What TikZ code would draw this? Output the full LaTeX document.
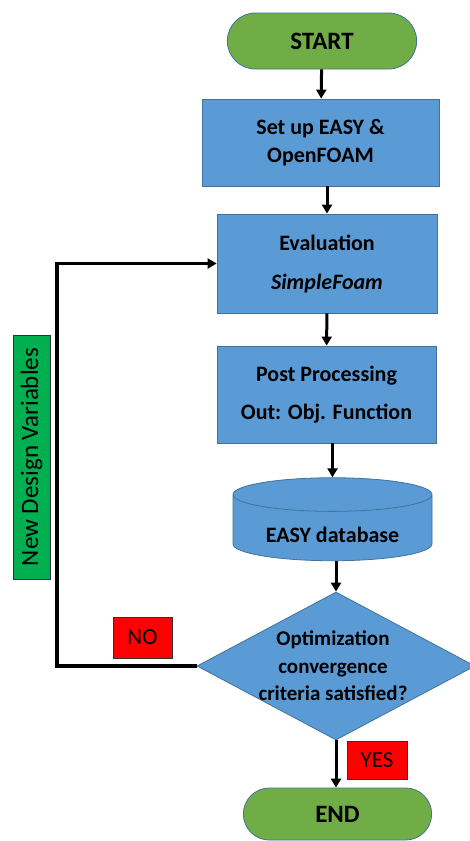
\documentclass[tikz,border=0pt]{standalone}
\usepackage{fontspec}
\setmainfont{Carlito}
\usetikzlibrary{arrows.meta,shapes.geometric,shapes.misc}
\definecolor{boxblue}{HTML}{5B9BD5}
\definecolor{edgeblue}{HTML}{41719C}
\definecolor{pillgreen}{HTML}{70AD47}
\definecolor{taggreen}{HTML}{00B050}
\tikzset{
  terminal/.style={rounded rectangle, fill=pillgreen, draw=edgeblue, line width=0.8pt,
    font=\fontsize{25}{28}\selectfont\bfseries},
  process/.style={rectangle, fill=boxblue, draw=edgeblue, line width=0.8pt, align=center,
    font=\fontsize{22}{28}\selectfont\bfseries},
  database/.style={cylinder, shape border rotate=90, aspect=0.24, fill=boxblue, draw=edgeblue,
    line width=0.8pt, font=\fontsize{22}{28}\selectfont\bfseries},
  decision/.style={diamond, fill=boxblue, draw=edgeblue, line width=0.8pt},
  tag/.style={rectangle, draw=black!80, line width=0.8pt, font=\fontsize{23}{28}\selectfont},
  flow/.style={->, line width=3pt}
}
\begin{document}
\begin{tikzpicture}[x=1pt, y=1pt, >={Triangle[length=9pt,width=10pt]}, line join=miter]
            \useasboundingbox (0,0) rectangle (469,-841);
            \node[terminal, minimum width=196, minimum height=56] (start) at (322,-41) {START};
            \node[process, minimum width=237, minimum height=87] (setup) at (320.5,-142.5) {Set up EASY \&\\OpenFOAM};
            \node[process, minimum width=220, minimum height=99] (eval) at (327,-263.5) {Evaluation\\[11pt]\textit{SimpleFoam}};
            \node[process, minimum width=219, minimum height=97] (post) at (326.5,-394.5) {Post Processing\\[10pt]Out: Obj. Function};
            \node[database, minimum width=199, minimum height=83] (db) at (332.5,-530) {\phantom{EASY database}};
            \node[font=\fontsize{22}{28}\selectfont\bfseries] (dbtext) at (332.5,-535) {EASY database};
            \node[decision, minimum width=278, minimum height=148] (dec) at (336,-666) {};
            \node[font=\fontsize{21}{27.5}\selectfont\bfseries, align=center] (dectext) at (333,-666) {Optimization\\convergence\\criteria satisfied?};
            \node[terminal, minimum width=195, minimum height=52] (end) at (337.5,-814) {END};
            % yes / no flags
            \node[tag, fill=red, minimum width=59, minimum height=41] (no) at (142.5,-637.5) {NO};
            \node[tag, fill=red, minimum width=60, minimum height=38] (yes) at (377,-760) {YES};
            \node[tag, fill=taggreen, rotate=90, minimum width=244, minimum height=37, font=\fontsize{25}{28}\selectfont] (newvars) at (31.5,-457) {New Design Variables};
            % main flow
            \draw[flow] (start) -- (setup);
            \draw[flow] (setup.south -| eval.north) -- (eval.north);
            \draw[flow] (eval) -- (post);
            \draw[flow] (post.south -| db.north) -- (db.north);
            \draw[flow] (db.south -| dec.north) -- (dec.north);
            \draw[flow] (dec.south) -- (end.north -| dec.south);
            % loop back
            \coordinate (corner) at (57,-666);
            \draw[flow, line width=3.5pt] (dec.west) -- (corner) |- (eval.west);
        \end{tikzpicture}
\end{document}
